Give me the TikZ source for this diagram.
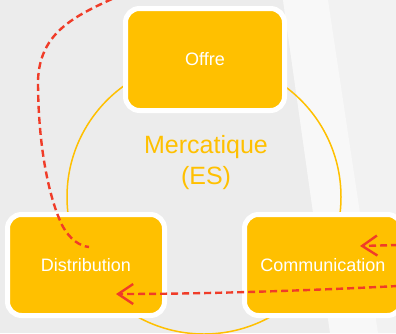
\documentclass[tikz,border=0pt]{standalone}
\usepackage{xcolor}
\usepackage{fontspec}
\setmainfont{Liberation Sans}
\usepackage{tikz}
\usetikzlibrary{calc,arrows.meta}

\definecolor{jaune}{RGB}{255,192,0}
\definecolor{rouge}{RGB}{240,60,40}
\definecolor{fond}{RGB}{236,236,236}
\definecolor{fondclair}{RGB}{242,242,242}
\definecolor{bande}{RGB}{248,248,248}

\begin{document}
\begin{tikzpicture}[x=1pt, y=-1pt,
        bloc/.style={rectangle, rounded corners=14pt, draw=white, line width=5pt,
            fill=jaune, text=white, inner sep=0pt, minimum width=157pt,
            minimum height=101pt, font=\fontsize{18}{20}\selectfont},
        fleche/.style={draw=rouge, line width=2.4pt, dash pattern=on 7pt off 4pt},
        >={Straight Barb[length=15pt,width=20pt]}]

        % fond
        \clip (0,0) rectangle (396,333);
        \fill[fond] (0,0) rectangle (396,333);
        \fill[fondclair] (283,0) -- (396,0) -- (396,333) -- (330,333) -- cycle;
        \fill[bande] (283,0) -- (328,0) -- (378,333) -- (330,333) -- cycle;

        \draw[jaune, line width=1.5pt] (204,197) circle (137);

        \node[bloc, minimum width=159pt, minimum height=102pt] (O) at (205,59.5) {Offre};
        \node[bloc] (D) at (86,265) {Distribution};
        \node[bloc] (C) at (323,265) {Communication};
        \node[text=jaune, align=center, font=\fontsize{25}{31}\selectfont] (M)
            at (206,163) {Mercatique\\(ES)};

        \coordinate (h) at (112,-1);
        \coordinate (d) at (89,247);
        \coordinate (r1) at (398,245);
        \coordinate (t1) at (360,246);
        \coordinate (r2) at (398,286);
        \coordinate (t2) at (116,294);

        \draw[fleche] (h) .. controls (70,18) and (40,35) .. (38,80)
            .. controls (38,150) and (50,200) .. (62,225)
            .. controls (70,240) and (80,246) .. (d);
        \draw[fleche, ->] (r1) -- (t1);
        \draw[fleche, ->] (r2) .. controls (300,291) and (200,294) .. (t2);
    \end{tikzpicture}
\end{document}
